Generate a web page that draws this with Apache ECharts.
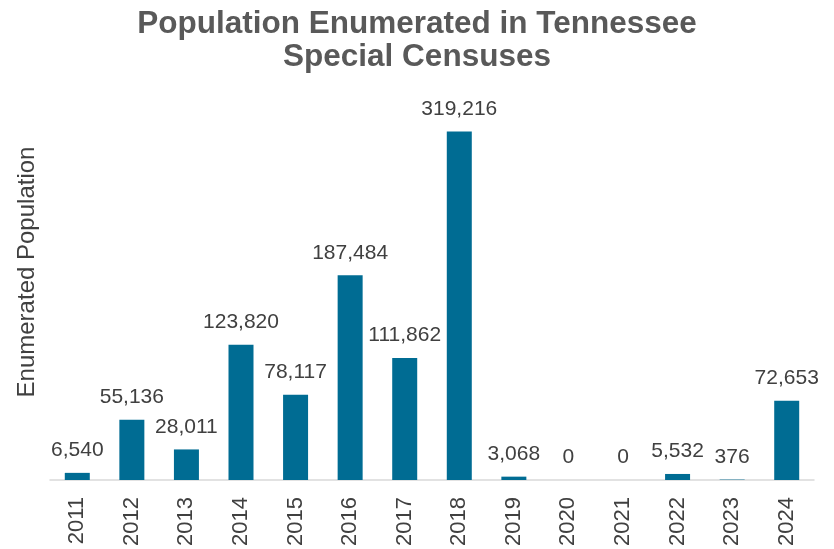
<!DOCTYPE html>
<html>
<head>
<meta charset="utf-8">
<script src="https://cdn.jsdelivr.net/npm/echarts@6/dist/echarts.min.js"></script>
<style>html,body{margin:0;padding:0;background:#fff;}#c{width:834px;height:549px;}</style>
</head>
<body>
<div id="c"></div>
<script>
const years = ['2011','2012','2013','2014','2015','2016','2017','2018','2019','2020','2021','2022','2023','2024'];
const population = [6540, 55136, 28011, 123820, 78117, 187484, 111862, 319216, 3068, 0, 0, 5532, 376, 72653];
const titleText = 'Population Enumerated in Tennessee\nSpecial Censuses';
const yAxisTitle = 'Enumerated Population';

const chart = echarts.init(document.getElementById('c'), null, {renderer: 'canvas'});
chart.setOption({
  animation: false,
  backgroundColor: '#ffffff',
  title: {
    text: titleText,
    left: 'center',
    top: 3,
    textStyle: {fontFamily: 'Liberation Sans', fontWeight: 'bold', fontSize: 31.5, color: '#595959', lineHeight: 33}
  },
  grid: {left: 50, right: 20, top: 98, bottom: 69, containLabel: false},
  xAxis: {
    type: 'category',
    data: years,
    axisLine: {lineStyle: {color: '#d9d9d9', width: 1.5}},
    axisTick: {show: false},
    axisLabel: {rotate: 90, fontFamily: 'Liberation Sans', fontSize: 22, color: '#404040', margin: 17}
  },
  yAxis: {
    type: 'value',
    min: 0,
    max: 350000,
    name: yAxisTitle,
    nameLocation: 'middle',
    nameGap: 11,
    nameRotate: 90,
    nameTextStyle: {fontFamily: 'Liberation Sans', fontSize: 24, color: '#404040', padding: [0, 0, 0, 34]},
    axisLine: {show: false},
    axisTick: {show: false},
    axisLabel: {show: false},
    splitLine: {show: false}
  },
  series: [{
    type: 'bar',
    data: population,
    barWidth: 25,
    itemStyle: {color: '#006C93'},
    label: {
      show: true,
      position: 'top',
      distance: 12,
      fontFamily: 'Liberation Sans',
      fontSize: 21,
      color: '#404040',
      formatter: p => p.value.toLocaleString('en-US')
    }
  }]
});
</script>
</body>
</html>
